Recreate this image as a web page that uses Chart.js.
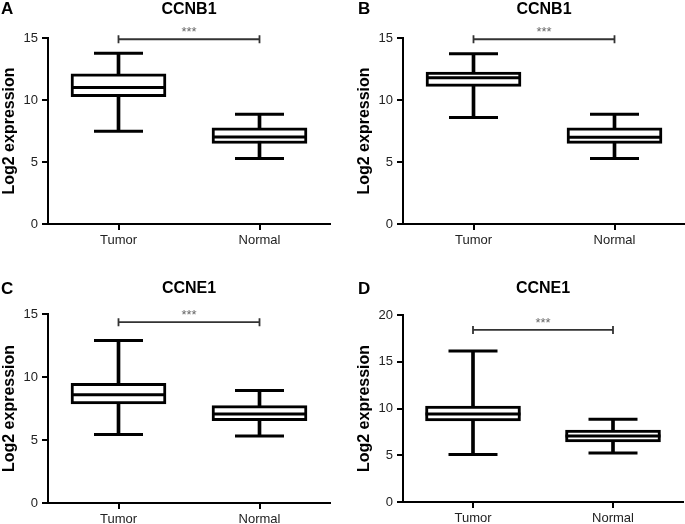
<!DOCTYPE html>
<html>
<head>
<meta charset="utf-8">
<script src="https://cdn.jsdelivr.net/npm/chart.js@4.4.1/dist/chart.umd.min.js"></script>
<style>
  html, body { margin: 0; padding: 0; background: #fff; }
  #wrap { position: relative; width: 685px; height: 524px; overflow: hidden; }
  canvas { position: absolute; }
</style>
</head>
<body>
<div id="wrap">
  <canvas id="panelA" width="345" height="262" style="left:0;top:0"></canvas>
  <canvas id="panelB" width="340" height="262" style="left:345px;top:0"></canvas>
  <canvas id="panelC" width="345" height="262" style="left:0;top:262px"></canvas>
  <canvas id="panelD" width="340" height="262" style="left:345px;top:262px"></canvas>
</div>
<script>
const groups = ['Tumor', 'Normal'];

// [min, q1, median, q3, max]
const tumorA = [7.48, 10.27, 11.0, 12.12, 13.78];
const normalA = [5.28, 6.49, 7.02, 7.75, 8.85];
const tumorB = [8.58, 11.1, 11.8, 12.25, 13.72];
const normalB = [5.28, 6.5, 7.0, 7.75, 8.85];
const tumorC = [5.43, 7.86, 8.6, 9.5, 12.89];
const normalC = [5.32, 6.53, 7.06, 7.73, 8.92];
const tumorD = [5.07, 8.68, 9.4, 10.25, 16.15];
const normalD = [5.25, 6.43, 7.07, 7.68, 8.86];

// height of the significance bracket in each panel
const bracketLevels = [14.9, 14.9, 14.35, 18.4];
const yMaxes = [15, 15, 15, 20];
const titles = ['CCNB1', 'CCNB1', 'CCNE1', 'CCNE1'];
const letters = ['A', 'B', 'C', 'D'];

const FONT = '"Liberation Sans", Arial, Helvetica, sans-serif';

const boxExtras = {
  id: 'boxExtras',
  afterDatasetsDraw(chart, args, opts) {
    const { ctx } = chart;
    const x = chart.scales.x;
    const y = chart.scales.y;
    const boxMeta = chart.getDatasetMeta(1);
    ctx.save();
    ctx.strokeStyle = '#000';
    ctx.lineWidth = 3;
    ctx.beginPath();
    opts.stats.forEach((s, i) => {
      const cx = x.getPixelForValue(i);
      const half = boxMeta.data[i].width / 2;
      for (const v of [s[0], s[4]]) {
        const py = y.getPixelForValue(v);
        ctx.moveTo(cx - 24.5, py);
        ctx.lineTo(cx + 24.5, py);
      }
      const my = y.getPixelForValue(s[2]);
      ctx.moveTo(cx - half, my);
      ctx.lineTo(cx + half, my);
    });
    ctx.stroke();

    // significance bracket
    const by = y.getPixelForValue(opts.bracket);
    const x0 = x.getPixelForValue(0);
    const x1 = x.getPixelForValue(1);
    ctx.strokeStyle = '#333';
    ctx.lineWidth = 1.8;
    ctx.beginPath();
    ctx.moveTo(x0, by); ctx.lineTo(x1, by);
    ctx.moveTo(x0, by - 4); ctx.lineTo(x0, by + 4);
    ctx.moveTo(x1, by - 4); ctx.lineTo(x1, by + 4);
    ctx.stroke();
    ctx.fillStyle = '#666';
    ctx.font = '13px ' + FONT;
    ctx.textAlign = 'center';
    ctx.textBaseline = 'alphabetic';
    ctx.fillText('***', (x0 + x1) / 2, by - 3);
    ctx.restore();
  },
  afterDraw(chart, args, opts) {
    const { ctx, chartArea } = chart;
    ctx.save();
    ctx.fillStyle = '#000';
    ctx.textBaseline = 'middle';
    ctx.font = 'bold 16px ' + FONT;
    ctx.textAlign = 'center';
    ctx.fillText(opts.title, (chartArea.left + chartArea.right) / 2, opts.titleY);
    ctx.font = 'bold 17px ' + FONT;
    ctx.textAlign = 'left';
    ctx.fillText(opts.letter, opts.letterX, opts.letterY);
    ctx.restore();
  }
};

function initPanel(id, index, tumor, normal, layout) {
  const stats = [tumor, normal];
  const axisGrid = { display: true, drawOnChartArea: false, drawTicks: true, tickLength: 6, color: '#000', lineWidth: 2 };
  return new Chart(document.getElementById(id), {
    type: 'bar',
    data: {
      labels: groups,
      datasets: [
        {
          data: stats.map(s => [s[0], s[4]]),
          backgroundColor: '#000',
          barThickness: 3,
          grouped: false,
          order: 1
        },
        {
          data: stats.map(s => [s[1], s[3]]),
          backgroundColor: '#fff',
          borderColor: '#000',
          borderWidth: 3,
          borderSkipped: false,
          barThickness: 95,
          grouped: false,
          order: 0
        }
      ]
    },
    options: {
      responsive: false,
      animation: false,
      devicePixelRatio: 1,
      layout: { padding: layout.padding },
      plugins: {
        legend: { display: false },
        tooltip: { enabled: false },
        boxExtras: {
          stats,
          bracket: bracketLevels[index],
          title: titles[index],
          letter: letters[index],
          titleY: layout.titleY,
          letterX: layout.letterX,
          letterY: layout.letterY
        }
      },
      scales: {
        x: {
          offset: true,
          grid: Object.assign({ offset: false }, axisGrid),
          border: { display: true, color: '#000', width: 2 },
          ticks: { color: '#222', padding: 3, font: { family: FONT, size: 13 } },
          afterFit: scale => { scale.height = layout.xHeight; }
        },
        y: {
          min: 0,
          max: yMaxes[index],
          grid: axisGrid,
          border: { display: true, color: '#000', width: 2 },
          ticks: { stepSize: 5, color: '#222', padding: 4, font: { family: FONT, size: 13 } },
          title: {
            display: true,
            text: 'Log2 expression',
            color: '#000',
            padding: 0,
            font: { family: FONT, size: 16, weight: 'bold' }
          },
          afterFit: scale => { scale.width = 48; }
        }
      }
    },
    plugins: [boxExtras]
  });
}

initPanel('panelA', 0, tumorA, normalA,
  { padding: { top: 38, right: 15, bottom: 0, left: 0 }, xHeight: 38, titleY: 10, letterX: 1, letterY: 9 });
initPanel('panelB', 1, tumorB, normalB,
  { padding: { top: 38, right: 0, bottom: 0, left: 10 }, xHeight: 38, titleY: 10, letterX: 13, letterY: 9 });
initPanel('panelC', 2, tumorC, normalC,
  { padding: { top: 52, right: 15, bottom: 0, left: 0 }, xHeight: 21, titleY: 27, letterX: 1, letterY: 27 });
initPanel('panelD', 3, tumorD, normalD,
  { padding: { top: 53, right: 2, bottom: 0, left: 10 }, xHeight: 22, titleY: 27, letterX: 13, letterY: 27 });
</script>
</body>
</html>
